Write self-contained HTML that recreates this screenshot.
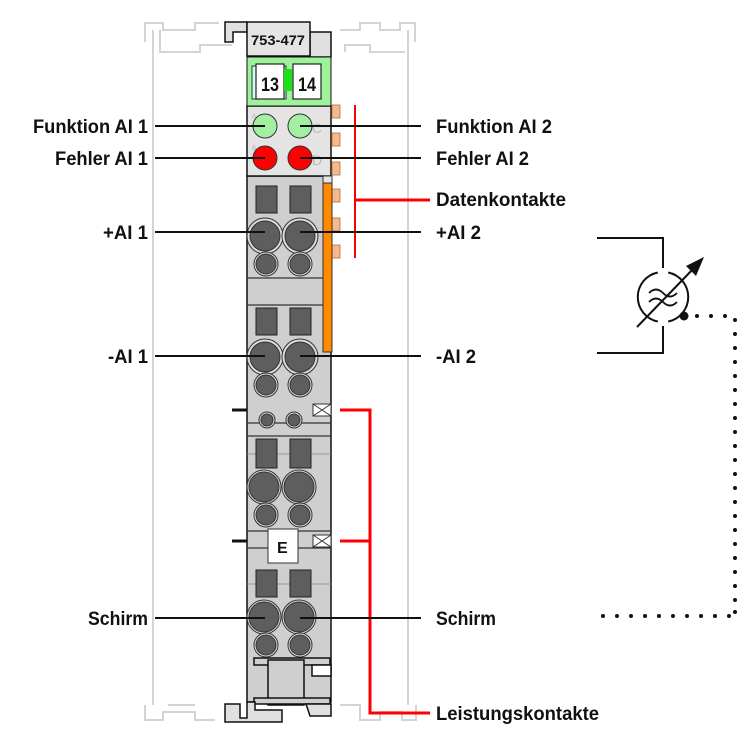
<!DOCTYPE html>
<html><head><meta charset="utf-8"><style>
html,body{margin:0;padding:0;background:#fff;}
svg{display:block;}
text{font-family:"Liberation Sans",sans-serif;font-weight:bold;font-size:19px;fill:#111;}
</style></head><body>
<svg width="750" height="750" viewBox="0 0 750 750" xmlns="http://www.w3.org/2000/svg">
<!-- rail background -->
<g fill="none" stroke="#d4d4d4" stroke-width="2">
<path d="M153 30 V705"/>
<path d="M408 30 V705"/>
<path d="M145 42 V23 H163 V30 H195 V23 H219 M160 30 V52 H200 V45 H232"/>
<path d="M340 30 H360 V23 H380 V30 H400 V23 H415 V42 M345 52 V45 H370 V52 H405"/>
<path d="M145 705 V720 H163 V712 H195 V720 H215 M168 705 H195"/>
<path d="M340 705 H360 V720 H380 V712 H402 V720 H416 V705"/>
</g>
<!-- top hook -->
<path d="M225 22 H247 V32 H233 V42 H225 Z" fill="#e0e0e0" stroke="#111" stroke-width="1.5"/>
<path d="M310 32 H331 V57 H310 Z" fill="#e0e0e0" stroke="#111" stroke-width="1.5"/>
<!-- module body -->
<rect x="247" y="176" width="84" height="526" fill="#cfcfcf" stroke="#111" stroke-width="1.5"/>
<rect x="247" y="106" width="84" height="70" fill="#e4e4e4" stroke="#111" stroke-width="1.5"/>
<rect x="247" y="57" width="84" height="49" fill="#9ef29a" stroke="#111" stroke-width="1"/>
<rect x="247" y="22" width="63" height="34" fill="#e4e4e4" stroke="#111" stroke-width="1.5"/>
<text x="251" y="45" style="font-size:14px" textLength="54" lengthAdjust="spacingAndGlyphs">753-477</text>
<!-- 13/14 marker -->
<rect x="252" y="66" width="34" height="33" fill="#cfe" stroke="#333" stroke-width="1"/>
<rect x="256" y="64" width="28" height="35" fill="#fff" stroke="#222" stroke-width="1.2"/>
<rect x="284" y="69" width="8" height="22" fill="#1ce21c"/>
<rect x="293" y="64" width="28" height="35" fill="#fff" stroke="#222" stroke-width="1.2"/>
<text x="261" y="91" style="font-size:19px" textLength="18" lengthAdjust="spacingAndGlyphs">13</text>
<text x="298" y="91" style="font-size:19px" textLength="18" lengthAdjust="spacingAndGlyphs">14</text>
<!-- LEDs -->
<text x="252" y="118" style="font-size:6px;fill:#aaa;font-weight:normal">A</text>
<text x="252" y="150" style="font-size:6px;fill:#aaa;font-weight:normal">B</text>
<text x="312" y="133" style="font-size:14px;fill:#bbb;font-weight:normal">C</text>
<text x="312" y="165" style="font-size:14px;fill:#bbb;font-weight:normal">D</text>
<circle cx="265" cy="126" r="12" fill="#a3f0a3" stroke="#333" stroke-width="1"/>
<circle cx="300" cy="126" r="12" fill="#a3f0a3" stroke="#333" stroke-width="1"/>
<circle cx="265" cy="158" r="12" fill="#f00" stroke="#333" stroke-width="1"/>
<circle cx="300" cy="158" r="12" fill="#f00" stroke="#333" stroke-width="1"/>
<!-- peach data tabs -->
<g fill="#f7b98b" stroke="#b07040" stroke-width="0.8">
<rect x="332" y="105" width="8" height="13"/><rect x="332" y="133" width="8" height="13"/>
<rect x="332" y="162" width="8" height="13"/><rect x="332" y="189" width="8" height="13"/>
<rect x="332" y="218" width="8" height="13"/><rect x="332" y="245" width="8" height="13"/>
</g>
<!-- orange strip -->
<rect x="323" y="183" width="9" height="169" fill="#ff8a00" stroke="#333" stroke-width="1"/>
<rect x="323" y="176" width="9" height="7" fill="#e4e4e4" stroke="#333" stroke-width="1"/>
<!-- section lines -->
<g stroke="#333" stroke-width="1.2">
<line x1="247" y1="278" x2="323" y2="278"/><line x1="247" y1="305" x2="323" y2="305"/>
<line x1="247" y1="423" x2="331" y2="423"/><line x1="247" y1="436" x2="331" y2="436"/>
<line x1="247" y1="531" x2="331" y2="531"/><line x1="247" y1="548" x2="331" y2="548"/>
<line x1="247" y1="454" x2="331" y2="454" stroke="#888" stroke-width="0.8"/>
<line x1="247" y1="584" x2="331" y2="584" stroke="#888" stroke-width="0.8"/>
</g>
<!-- terminal groups -->
<g fill="#5e5e5e" stroke="#222" stroke-width="1">
<rect x="256" y="186" width="21" height="27"/><rect x="290" y="186" width="21" height="27"/>
<rect x="256" y="308" width="21" height="27"/><rect x="290" y="308" width="21" height="27"/>
<rect x="256" y="439" width="21" height="29"/><rect x="290" y="439" width="21" height="29"/>
<rect x="256" y="570" width="21" height="27"/><rect x="290" y="570" width="21" height="27"/>
</g>
<g fill="#5e5e5e" stroke="#333" stroke-width="1">
<circle cx="265" cy="236" r="18" fill="#ddd"/><circle cx="265" cy="236" r="15"/>
<circle cx="300" cy="236" r="18" fill="#ddd"/><circle cx="300" cy="236" r="15"/>
<circle cx="266" cy="264" r="12" fill="#ddd"/><circle cx="266" cy="264" r="10"/>
<circle cx="300" cy="264" r="12" fill="#ddd"/><circle cx="300" cy="264" r="10"/>
<circle cx="265" cy="357" r="18" fill="#ddd"/><circle cx="265" cy="357" r="15"/>
<circle cx="300" cy="357" r="18" fill="#ddd"/><circle cx="300" cy="357" r="15"/>
<circle cx="266" cy="385" r="12" fill="#ddd"/><circle cx="266" cy="385" r="10"/>
<circle cx="300" cy="385" r="12" fill="#ddd"/><circle cx="300" cy="385" r="10"/>
<circle cx="267" cy="420" r="8" fill="#ddd"/><circle cx="267" cy="420" r="6"/>
<circle cx="294" cy="420" r="8" fill="#ddd"/><circle cx="294" cy="420" r="6"/>
<circle cx="264" cy="487" r="17" fill="#ddd"/><circle cx="264" cy="487" r="15"/>
<circle cx="299" cy="487" r="17" fill="#ddd"/><circle cx="299" cy="487" r="15"/>
<circle cx="266" cy="515" r="12" fill="#ddd"/><circle cx="266" cy="515" r="10"/>
<circle cx="300" cy="515" r="12" fill="#ddd"/><circle cx="300" cy="515" r="10"/>
<circle cx="264" cy="617" r="17" fill="#ddd"/><circle cx="264" cy="617" r="15"/>
<circle cx="299" cy="617" r="17" fill="#ddd"/><circle cx="299" cy="617" r="15"/>
<circle cx="266" cy="645" r="12" fill="#ddd"/><circle cx="266" cy="645" r="10"/>
<circle cx="300" cy="645" r="12" fill="#ddd"/><circle cx="300" cy="645" r="10"/>
</g>
<!-- E label -->
<rect x="268" y="529" width="30" height="34" fill="#fff" stroke="#333" stroke-width="1"/>
<text x="277" y="553" style="font-size:16px">E</text>
<!-- power contact markers -->
<g fill="#fff" stroke="#333" stroke-width="1">
<path d="M313 404 H331 V416 H313 Z M313 404 L331 416 M331 404 L313 416"/>
<path d="M313 535 H331 V547 H313 Z M313 535 L331 547 M331 535 L313 547"/>
</g>
<line x1="232" y1="410" x2="247" y2="410" stroke="#111" stroke-width="3"/>
<line x1="232" y1="541" x2="247" y2="541" stroke="#111" stroke-width="3"/>
<!-- bottom foot -->
<g fill="#cfcfcf" stroke="#111" stroke-width="1.5">
<rect x="254" y="658" width="76" height="7"/>
<rect x="268" y="660" width="36" height="45"/>
<path d="M312 665 H331 V676 H312 Z" fill="#fff"/>
<rect x="254" y="698" width="76" height="6"/>
<path d="M225 704 H240 V718 H247 V702 H255 V710 H282 V722 H225 Z" fill="#e0e0e0"/>
<path d="M306 704 H331 V716 H310 Z" fill="#e0e0e0"/>
</g>
<!-- red lines -->
<g stroke="#f00" stroke-width="3" fill="none">
<line x1="355" y1="105" x2="355" y2="258" stroke-width="2"/>
<line x1="355" y1="200" x2="430" y2="200"/>
<path d="M340 410 H370 V713 H430"/>
<line x1="340" y1="541" x2="370" y2="541"/>
</g>
<!-- leader lines -->
<g stroke="#111" stroke-width="2">
<line x1="155" y1="126" x2="265" y2="126"/><line x1="300" y1="126" x2="421" y2="126"/>
<line x1="155" y1="158" x2="265" y2="158"/><line x1="300" y1="158" x2="421" y2="158"/>
<line x1="155" y1="232" x2="265" y2="232"/><line x1="300" y1="232" x2="421" y2="232"/>
<line x1="155" y1="356" x2="265" y2="356"/><line x1="300" y1="356" x2="421" y2="356"/>
<line x1="155" y1="618" x2="265" y2="618"/><line x1="300" y1="618" x2="421" y2="618"/>
</g>
<!-- labels -->
<text x="33" y="133" textLength="115" lengthAdjust="spacingAndGlyphs">Funktion AI 1</text>
<text x="55" y="165" textLength="93" lengthAdjust="spacingAndGlyphs">Fehler AI 1</text>
<text x="103" y="239" textLength="45" lengthAdjust="spacingAndGlyphs">+AI 1</text>
<text x="108" y="363" textLength="40" lengthAdjust="spacingAndGlyphs">-AI 1</text>
<text x="88" y="625" textLength="60" lengthAdjust="spacingAndGlyphs">Schirm</text>
<text x="436" y="133" textLength="116" lengthAdjust="spacingAndGlyphs">Funktion AI 2</text>
<text x="436" y="165" textLength="93" lengthAdjust="spacingAndGlyphs">Fehler AI 2</text>
<text x="436" y="206" textLength="130" lengthAdjust="spacingAndGlyphs">Datenkontakte</text>
<text x="436" y="239" textLength="45" lengthAdjust="spacingAndGlyphs">+AI 2</text>
<text x="436" y="363" textLength="40" lengthAdjust="spacingAndGlyphs">-AI 2</text>
<text x="436" y="625" textLength="60" lengthAdjust="spacingAndGlyphs">Schirm</text>
<text x="436" y="720" textLength="163" lengthAdjust="spacingAndGlyphs">Leistungskontakte</text>
<!-- sensor symbol -->
<g stroke="#111" stroke-width="2" fill="none">
<path d="M597 238 H663 V268"/>
<path d="M597 353 H663 V326"/>
<path d="M657.8 272.5 A25 25 0 0 0 657.8 321.5 M668.2 272.5 A25 25 0 0 1 668.2 321.5"/>
<path d="M649 293 q7 -7 14 0 q7 7 14 0 M649 302 q7 -7 14 0 q7 7 14 0" stroke-width="1.8"/>
<line x1="637" y1="327" x2="694" y2="268"/>
</g>
<polygon points="704,257 686,266 696,276" fill="#111"/>
<circle cx="684" cy="316" r="4.5" fill="#111"/>
<path d="M697 316 H735 V607 M729 616 H600" stroke="#111" stroke-width="4" stroke-linecap="round" stroke-dasharray="0 14" fill="none"/>
<circle cx="735" cy="612" r="2" fill="#111"/>
</svg>
</body></html>
